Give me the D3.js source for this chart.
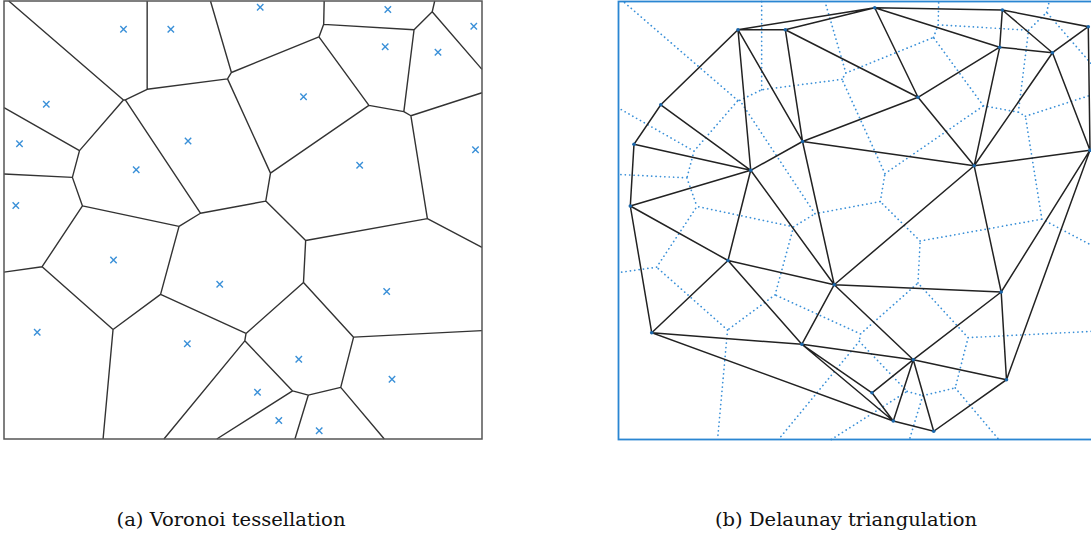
<!DOCTYPE html>
<html>
<head>
<meta charset="utf-8">
<script src="https://cdn.jsdelivr.net/npm/d3@7"></script>
<style>
  body { margin: 0; background: #fff; }
  svg { display: block; }
</style>
</head>
<body>
<div id="chart"></div>
<script>
var width = 1091, height = 535;

// sites in the unit square (the figure stretches it into a wider box)
var siteX = [0.250, 0.349, 0.0885, 0.0324, 0.385, 0.2766, 0.0247, 0.536, 0.803, 0.9828, 0.7975, 0.9079,
             0.6266, 0.7441, 0.9864, 0.2291, 0.4513, 0.0695, 0.3835, 0.8006, 0.6167, 0.8117, 0.5303, 0.5749, 0.6594];
var siteY = [0.0644, 0.0644, 0.2358, 0.326, 0.3196, 0.3854, 0.4669, 0.0142, 0.0194, 0.0575, 0.1043, 0.1169,
             0.2187, 0.3751, 0.3395, 0.5913, 0.6466, 0.7564, 0.7826, 0.6632, 0.8178, 0.8635, 0.8934, 0.9578, 0.9813];

var captions = ["(a) Voronoi tessellation", "(b) Delaunay triangulation"];

var points = siteX.map(function(d, i) { return [d, siteY[i]]; });
var delaunay = d3.Delaunay.from(points);
var voronoi = delaunay.voronoi([0, 0, 1, 1]);

var svg = d3.select("#chart")
  .append("svg")
    .attr("width", width)
    .attr("height", height);

// a little context that pushes d3-delaunay drawing through the scales
function scaledPath(x, y) {
  var p = d3.path();
  return {
    moveTo: function(a, b) { p.moveTo(x(a), y(b)); },
    lineTo: function(a, b) { p.lineTo(x(a), y(b)); },
    closePath: function() { p.closePath(); },
    toString: function() { return p.toString(); }
  };
}

function caption(g, cx, len, txt) {
  g.append("text")
    .attr("x", cx)
    .attr("y", 526)
    .attr("text-anchor", "middle")
    .attr("textLength", len)
    .attr("lengthAdjust", "spacingAndGlyphs")
    .attr("font-family", "DejaVu Serif, Liberation Serif, serif")
    .attr("font-size", 18)
    .attr("fill", "#111")
    .text(txt);
}

// ---- (a) Voronoi tessellation
var xa = d3.scaleLinear().domain([0, 1]).range([4, 482]);
var ya = d3.scaleLinear().domain([0, 1]).range([1, 439]);

var ga = svg.append("g");

var ctxA = scaledPath(xa, ya);
voronoi.render(ctxA);
ga.append("path")
  .attr("d", ctxA.toString())
  .attr("fill", "none")
  .attr("stroke", "#333")
  .attr("stroke-width", 1.4);

ga.append("rect")
  .attr("x", xa(0)).attr("y", ya(0))
  .attr("width", xa(1) - xa(0))
  .attr("height", ya(1) - ya(0))
  .attr("fill", "none")
  .attr("stroke", "#555")
  .attr("stroke-width", 1.5);

var s = 3.2;
ga.selectAll(".site")
  .data(points)
  .enter()
  .append("path")
    .attr("class", "site")
    .attr("d", function(d) {
      var cx = xa(d[0]), cy = ya(d[1]);
      return "M" + (cx - s) + "," + (cy - s) + "L" + (cx + s) + "," + (cy + s) +
             "M" + (cx - s) + "," + (cy + s) + "L" + (cx + s) + "," + (cy - s);
    })
    .attr("stroke", "#3a90d8")
    .attr("stroke-width", 1.4);

caption(ga, 231, 229, captions[0]);

// ---- (b) Delaunay triangulation
var xb = d3.scaleLinear().domain([0, 1]).range([618.5, 1096.5]);
var yb = d3.scaleLinear().domain([0, 1]).range([1.5, 439.5]);

var gb = svg.append("g");

var ctxB = scaledPath(xb, yb);
voronoi.render(ctxB);
gb.append("path")
  .attr("d", ctxB.toString())
  .attr("fill", "none")
  .attr("stroke", "#3a90d8")
  .attr("stroke-width", 1.7)
  .attr("stroke-linecap", "round")
  .attr("stroke-dasharray", "0.1 4.3");

gb.append("rect")
  .attr("x", xb(0)).attr("y", yb(0))
  .attr("width", xb(1) - xb(0))
  .attr("height", yb(1) - yb(0))
  .attr("fill", "none")
  .attr("stroke", "#2a86d2")
  .attr("stroke-width", 1.8);

var ctxT = scaledPath(xb, yb);
delaunay.render(ctxT);
gb.append("path")
  .attr("d", ctxT.toString())
  .attr("fill", "none")
  .attr("stroke", "#222")
  .attr("stroke-width", 1.5);

gb.selectAll(".pt")
  .data(points)
  .enter()
  .append("circle")
    .attr("class", "pt")
    .attr("cx", function(d) { return xb(d[0]); })
    .attr("cy", function(d) { return yb(d[1]); })
    .attr("r", 1.8)
    .attr("fill", "#1a66aa");

caption(gb, 846, 262, captions[1]);
</script>
</body>
</html>
